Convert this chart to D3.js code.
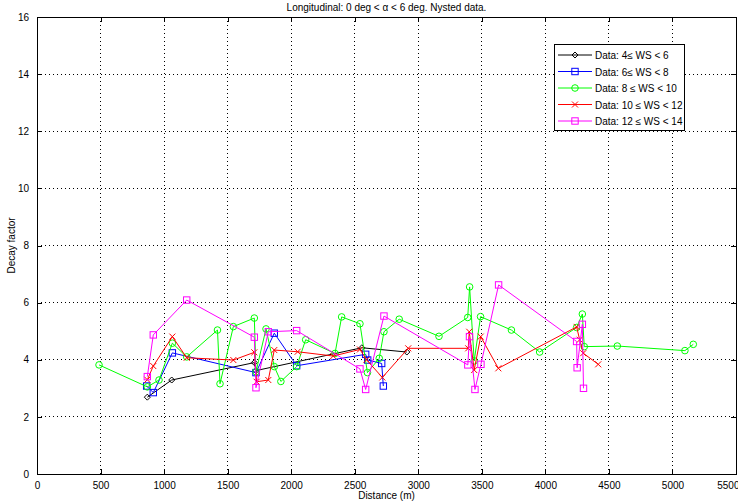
<!DOCTYPE html>
<html><head><meta charset="utf-8">
<script src="https://cdn.jsdelivr.net/npm/d3@7"></script>
<style>body{margin:0;background:#fff}svg{display:block;font-family:"Liberation Sans",Arial,sans-serif}</style>
</head><body><svg id="c" width="738" height="504"></svg>
<script>
const titleText = "Longitudinal: 0 deg < α < 6 deg. Nysted data.";
const xLabel = "Distance (m)";
const yLabel = "Decay factor";
const xTicks = [0,500,1000,1500,2000,2500,3000,3500,4000,4500,5000,5500];
const yTicks = [0,2,4,6,8,10,12,14,16];
const seriesNames = ["Data: 4\u2264 WS < 6","Data: 6\u2264 WS < 8","Data: 8 \u2264 WS < 10","Data: 10 \u2264 WS < 12","Data: 12 \u2264 WS < 14"];
const seriesColors = ["#000000","#0000ff","#00ff00","#ff0000","#ff00ff"];
const seriesMarkers = ["diamond","square","circle","cross","square"];

const ws4x = [868,1060,1710,1723,2556,2910];
const ws4y = [2.69,3.29,3.90,3.62,4.42,4.27];
const ws6x = [863,915,1065,1723,1867,2043,2586,2602,2712,2725];
const ws6y = [3.08,2.85,4.24,3.55,4.93,3.79,4.19,3.99,3.87,3.08];
const ws8x = [488,868,960,1065,1178,1420,1440,1545,1710,1723,1802,1867,1919,2043,2114,2345,2397,2541,2600,2693,2730,2850,3163,3389,3404,3440,3490,3733,3955,4246,4291,4306,4566,5098,5164];
const ws8y = [3.82,3.05,3.29,4.58,4.10,5.04,3.16,5.16,5.46,3.58,5.08,3.76,3.24,3.76,4.70,4.22,5.50,5.26,3.55,4.05,4.98,5.42,4.82,5.48,6.55,3.96,5.51,5.04,4.27,5.13,5.60,4.46,4.48,4.32,4.54];
const ws10x = [868,915,1065,1178,1545,1710,1728,1820,1867,2051,2331,2541,2593,2717,2921,3393,3401,3440,3491,3630,4246,4270,4298,4416];
const ws10y = [3.30,3.78,4.81,4.07,3.99,4.26,3.23,3.29,4.34,4.28,4.13,4.36,4.00,3.38,4.40,4.40,4.98,3.64,4.81,3.70,5.15,4.70,4.23,3.84];
const ws12x = [868,915,1178,1710,1723,1820,2043,2541,2586,2730,3390,3403,3446,3493,3632,4246,4250,4291,4300];
const ws12y = [3.41,4.87,6.09,4.79,3.02,4.98,5.02,3.68,2.96,5.53,3.82,4.81,2.96,3.84,6.62,4.64,3.72,5.24,3.00];

const seriesX = [ws4x,ws6x,ws8x,ws10x,ws12x];
const seriesY = [ws4y,ws6y,ws8y,ws10y,ws12y];

const W=738,H=504,m={l:37,r:2,t:17,b:30};
const svg=d3.select("#c");
const x=d3.scaleLinear().domain([0,5500]).range([m.l,W-m.r]);
const y=d3.scaleLinear().domain([0,16]).range([H-m.b,m.t]);
const g=svg.append("g");

// grid
g.append("g").selectAll("line").data(xTicks.slice(1,-1)).join("line")
 .attr("x1",d=>x(d)).attr("x2",d=>x(d)).attr("y1",y(0)).attr("y2",y(16))
 .attr("stroke","#000").attr("stroke-width",1).attr("stroke-dasharray","1,3").attr("shape-rendering","crispEdges");
g.append("g").selectAll("line").data(yTicks.slice(1,-1)).join("line")
 .attr("y1",d=>y(d)).attr("y2",d=>y(d)).attr("x1",x(0)).attr("x2",x(5500))
 .attr("stroke","#000").attr("stroke-width",1).attr("stroke-dasharray","1,3").attr("shape-rendering","crispEdges");

// axes
const fs=10;
const ax=svg.append("g").attr("transform",`translate(0,${y(0)})`)
 .call(d3.axisBottom(x).tickValues(xTicks).tickSize(-5).tickPadding(8).tickFormat(d3.format("d")));
const axT=svg.append("g").attr("transform",`translate(0,${y(16)})`)
 .call(d3.axisTop(x).tickValues(xTicks).tickSize(-5).tickFormat(""));
const ay=svg.append("g").attr("transform",`translate(${x(0)},0)`)
 .call(d3.axisLeft(y).tickValues(yTicks).tickSize(-5).tickPadding(8).tickFormat(d3.format("d")));
const ayR=svg.append("g").attr("transform",`translate(${x(5500)},0)`)
 .call(d3.axisRight(y).tickValues(yTicks).tickSize(-5).tickFormat(""));
[ax,axT,ay,ayR].forEach(a=>{a.select(".domain").attr("stroke","#000").attr("shape-rendering","crispEdges");
 a.selectAll(".tick line").attr("stroke","#000").attr("shape-rendering","crispEdges");
 a.selectAll("text").attr("font-size",fs).attr("fill","#000").attr("font-family","Liberation Sans, Arial, sans-serif");});
// keep last x label inside the window
ax.selectAll(".tick text").filter(d=>d===5500).attr("text-anchor","end").attr("dx","0.3em");

// labels
svg.append("text").attr("x",(x(0)+x(5500))/2).attr("y",11).attr("text-anchor","middle").attr("font-size",10).text(titleText);
svg.append("text").attr("x",(x(0)+x(5500))/2).attr("y",499).attr("text-anchor","middle").attr("font-size",10).text(xLabel);
svg.append("text").attr("transform",`translate(15,${(y(0)+y(16))/2}) rotate(-90)`).attr("text-anchor","middle").attr("font-size",10).text(yLabel);

function marker(sel,type,color){
  const s=3.2;
  if(type==="square") sel.append("rect").attr("x",-s).attr("y",-s).attr("width",2*s).attr("height",2*s).attr("fill","none").attr("stroke",color);
  else if(type==="circle") sel.append("circle").attr("r",3.3).attr("fill","none").attr("stroke",color);
  else if(type==="diamond") sel.append("path").attr("d","M0,-3L3,0L0,3L-3,0Z").attr("fill","none").attr("stroke",color);
  else if(type==="cross") sel.append("path").attr("d","M-3,-3L3,3M-3,3L3,-3").attr("fill","none").attr("stroke",color);
}

const line=d3.line().x(d=>x(d[0])).y(d=>y(d[1]));
seriesX.forEach((xs,i)=>{
  const pts=xs.map((v,j)=>[v,seriesY[i][j]]);
  const sg=svg.append("g");
  sg.append("path").datum(pts).attr("d",line).attr("fill","none").attr("stroke",seriesColors[i]).attr("stroke-width",1);
  sg.selectAll("g.m").data(pts).join("g").attr("class","m")
    .attr("transform",d=>`translate(${x(d[0])},${y(d[1])})`)
    .each(function(){marker(d3.select(this),seriesMarkers[i],seriesColors[i]);});
});

// legend
const lg=svg.append("g").attr("transform","translate(554,44)");
lg.append("rect").attr("x",0).attr("y",0).attr("width",130).attr("height",86).attr("fill","#fff").attr("stroke","#000").attr("shape-rendering","crispEdges");
seriesNames.forEach((n,i)=>{
  const yy=11+i*16.5;
  const r=lg.append("g").attr("transform",`translate(0,${yy})`);
  r.append("line").attr("x1",4).attr("x2",38).attr("y1",0).attr("y2",0).attr("stroke",seriesColors[i]);
  marker(r.append("g").attr("transform","translate(21,0)"),seriesMarkers[i],seriesColors[i]);
  r.append("text").attr("x",41).attr("y",4).attr("font-size",10).text(n);
});
</script></body></html>
